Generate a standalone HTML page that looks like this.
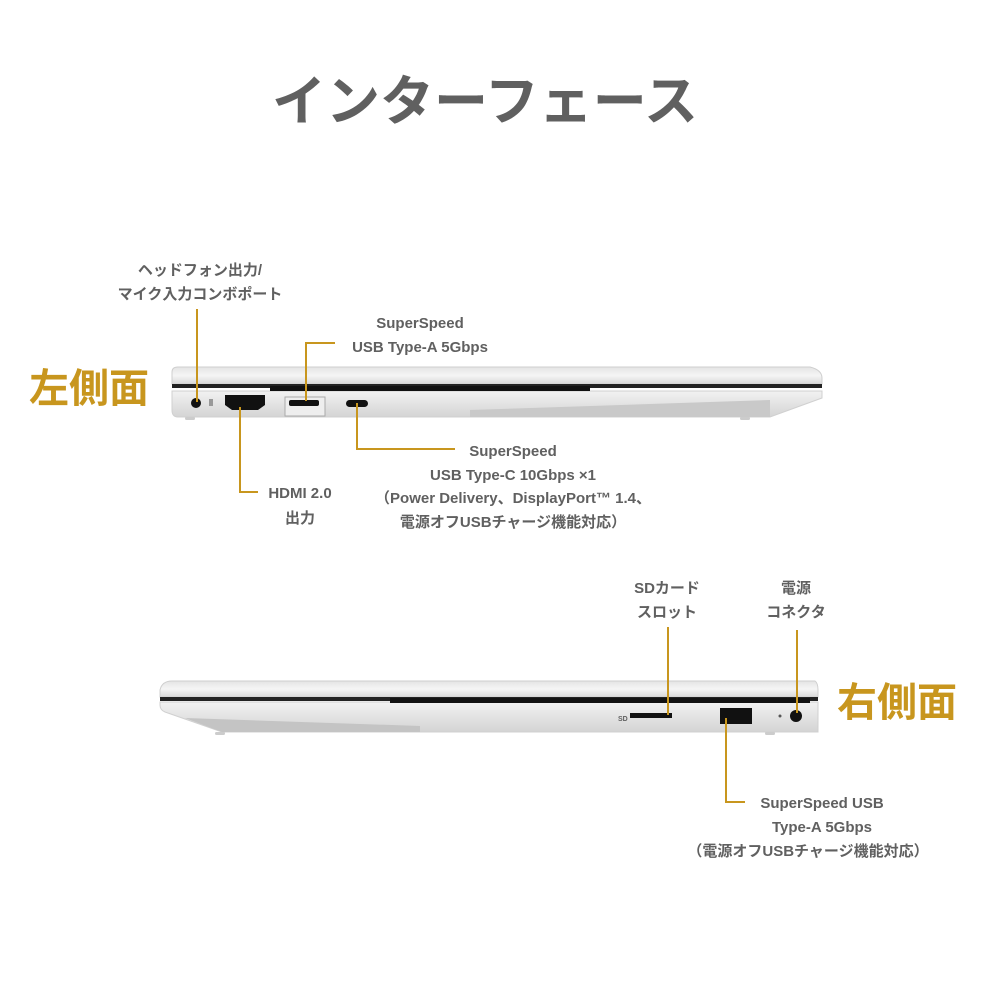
<!DOCTYPE html>
<html><head><meta charset="utf-8"><style>
body{margin:0;width:1000px;height:1000px;background:#fff;overflow:hidden}
svg text{font-family:"Liberation Sans","Noto Sans CJK JP",sans-serif;font-weight:bold;fill:#606060}
</style></head><body>
<svg width="1000" height="1000" viewBox="0 0 1000 1000">
<defs>
<linearGradient id="lid" x1="0" y1="0" x2="0" y2="1"><stop offset="0" stop-color="#e4e4e4"/><stop offset="0.5" stop-color="#f5f5f5"/><stop offset="1" stop-color="#d8d8d8"/></linearGradient>
<linearGradient id="base" x1="0" y1="0" x2="0" y2="1"><stop offset="0" stop-color="#f2f2f2"/><stop offset="1" stop-color="#d4d4d4"/></linearGradient>
</defs>
<text x="485" y="120" font-size="54" text-anchor="middle" fill="#666">インターフェース</text>

<!-- left laptop -->
<g>
<path d="M178,367 L810,367 Q822,370 822,378 L822,384 L172,384 L172,372 Q172,367 178,367Z" fill="url(#lid)" stroke="#cfcfcf"/>
<rect x="172" y="384" width="650" height="4" fill="#222"/>
<path d="M172,391 L822,391 L822,398 L770,417 L178,417 Q172,417 172,410Z" fill="url(#base)" stroke="#d0d0d0"/>
<path d="M470,410 L770,400 L770,417 L470,417Z" fill="#c9c9c9"/>
<rect x="270" y="386" width="320" height="5" fill="#111"/>
<circle cx="196" cy="403" r="5" fill="#111"/>
<rect x="209" y="399" width="4" height="7" fill="#999"/>
<path d="M225,395 L265,395 L265,405 L258,410 L232,410 L225,405Z" fill="#111"/>
<rect x="285" y="397" width="40" height="19" fill="#eee" stroke="#aaa"/>
<rect x="289" y="400" width="30" height="6" rx="2" fill="#111"/>
<rect x="346" y="400" width="22" height="7" rx="3.5" fill="#111"/>
<rect x="185" y="417" width="10" height="3" rx="1.5" fill="#ccc"/>
<rect x="740" y="417" width="10" height="3" rx="1.5" fill="#ccc"/>
</g>

<!-- right laptop -->
<g>
<path d="M172,681 L815,681 Q818,683 818,690 L818,697 L160,697 L160,690 Q162,681 172,681Z" fill="url(#lid)" stroke="#cfcfcf"/>
<rect x="160" y="697" width="658" height="4" fill="#222"/>
<path d="M160,702 L818,702 L818,732 L222,732 L165,712 Q160,710 160,705Z" fill="url(#base)" stroke="#d0d0d0"/>
<path d="M185,718 L420,726 L420,732 L222,732Z" fill="#c4c4c4"/>
<rect x="390" y="698" width="420" height="5" fill="#111"/>
<text x="618" y="721" font-size="7" font-weight="normal" fill="#555">SD</text>
<rect x="630" y="713" width="42" height="5" fill="#111"/>
<rect x="720" y="708" width="32" height="16" fill="#111"/>
<circle cx="796" cy="716" r="6" fill="#111"/>
<circle cx="780" cy="716" r="1.5" fill="#555"/>
<rect x="215" y="732" width="10" height="3" rx="1.5" fill="#ccc"/>
<rect x="765" y="732" width="10" height="3" rx="1.5" fill="#ccc"/>
</g>

<g stroke="#c8961e" stroke-width="2" fill="none">
<path d="M197,309 L197,402"/>
<path d="M306,401 L306,343 L335,343"/>
<path d="M240,407 L240,492 L258,492"/>
<path d="M357,403 L357,449 L455,449"/>
<path d="M668,627 L668,715"/>
<path d="M797,630 L797,713"/>
<path d="M726,718 L726,802 L745,802"/>
</g>

<text x="89" y="402" font-size="40" text-anchor="middle" style="fill:#c8961e">左側面</text>
<text x="897" y="716" font-size="40" text-anchor="middle" style="fill:#c8961e">右側面</text>

<g font-size="15" text-anchor="middle">
<text x="200" y="275">ヘッドフォン出力/</text>
<text x="200" y="299">マイク入力コンボポート</text>
<text x="420" y="328">SuperSpeed</text>
<text x="420" y="352">USB Type-A 5Gbps</text>
<text x="300" y="498">HDMI 2.0</text>
<text x="300" y="523">出力</text>
<text x="513" y="456">SuperSpeed</text>
<text x="513" y="480">USB Type-C 10Gbps ×1</text>
<text x="513" y="503">（Power Delivery、DisplayPort™ 1.4、</text>
<text x="513" y="527">電源オフUSBチャージ機能対応）</text>
<text x="667" y="593">SDカード</text>
<text x="667" y="617">スロット</text>
<text x="796" y="593">電源</text>
<text x="796" y="617">コネクタ</text>
<text x="822" y="808">SuperSpeed USB</text>
<text x="822" y="832">Type-A 5Gbps</text>
<text x="808" y="856">（電源オフUSBチャージ機能対応）</text>
</g>
</svg>
</body></html>
